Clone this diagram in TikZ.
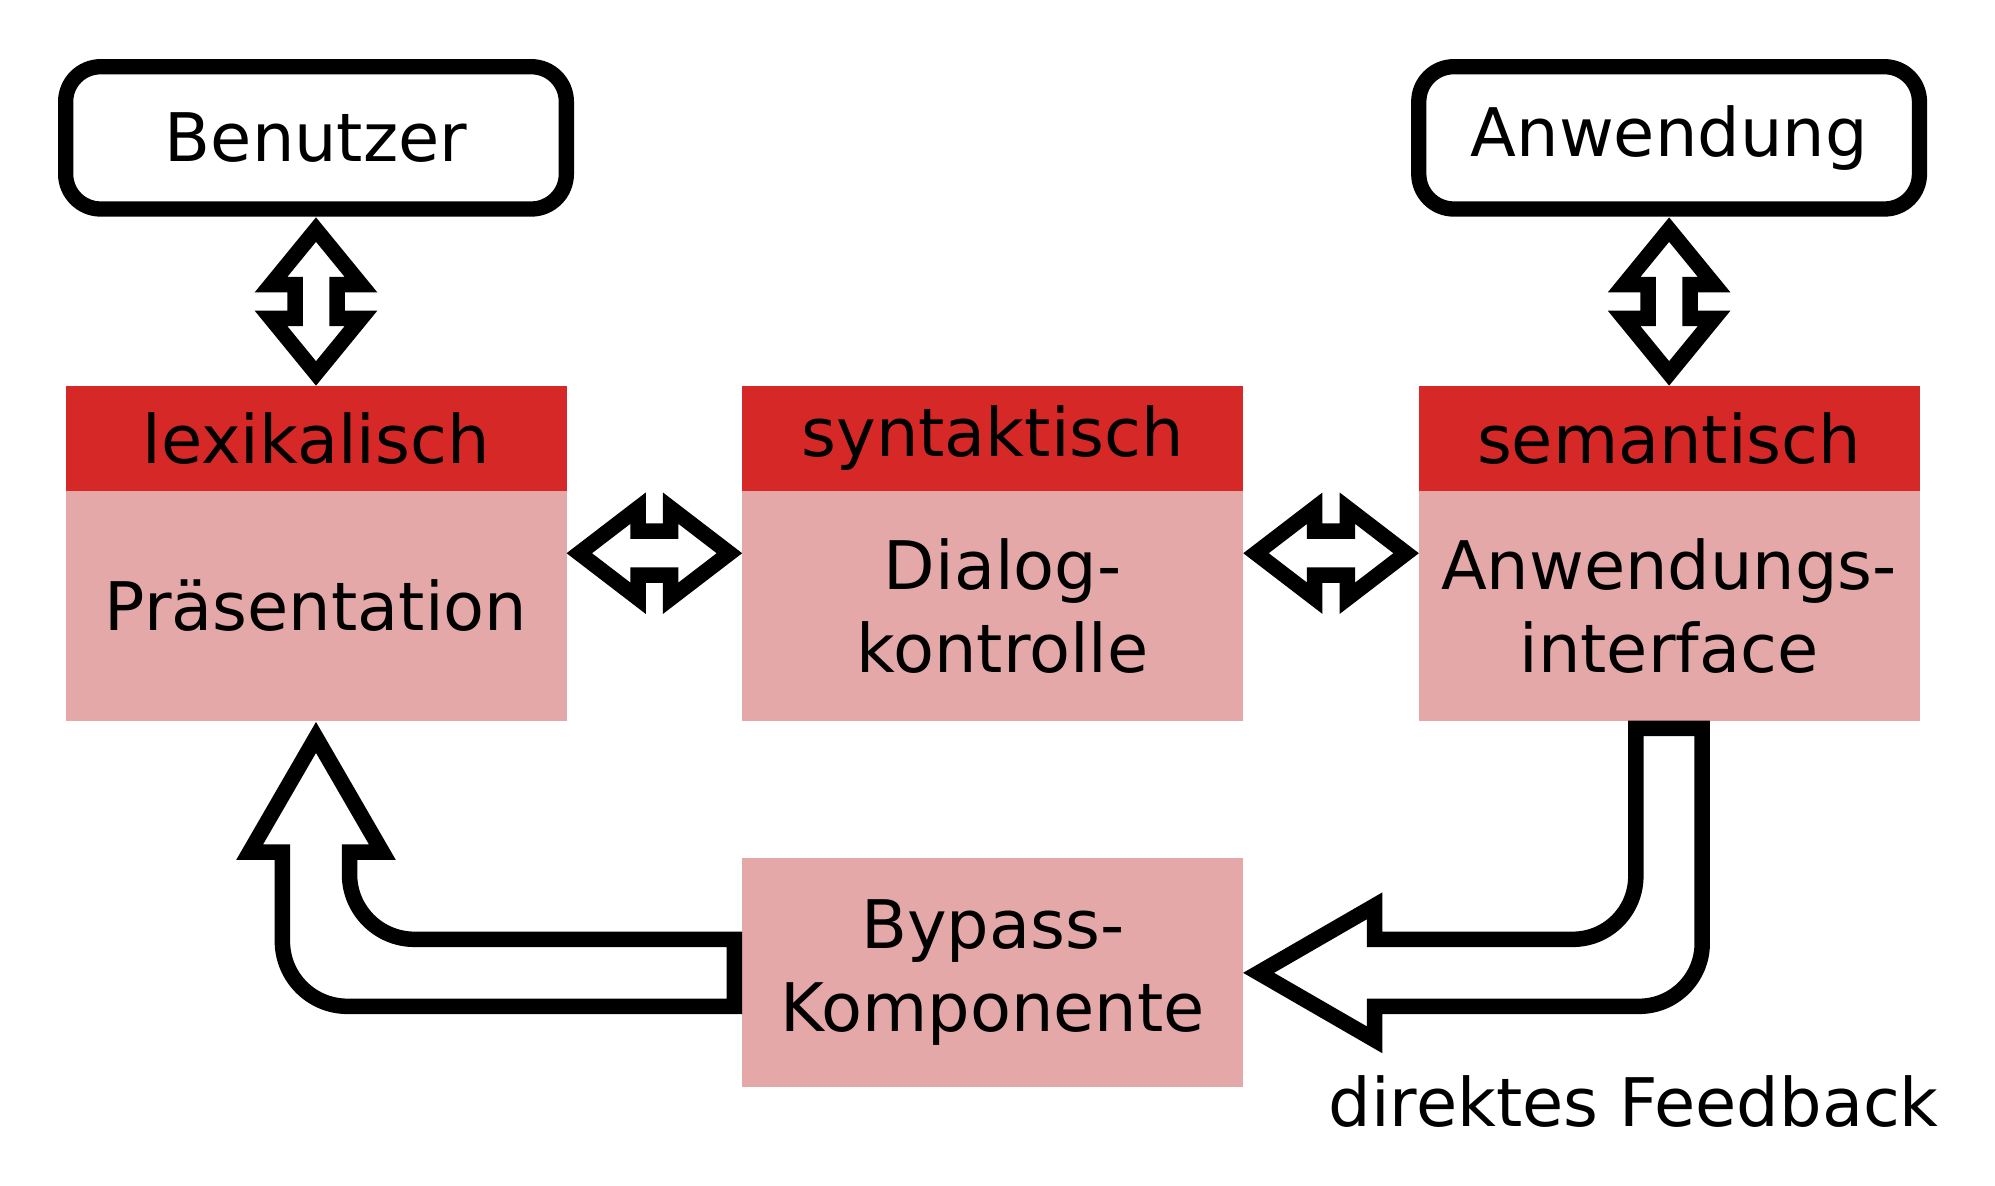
\documentclass[tikz,border=0pt]{standalone}
\usepackage{fontspec}
\setmainfont{DejaVu Sans}
\usetikzlibrary{calc}
\definecolor{hdred}{HTML}{D72828}
\definecolor{bodypink}{HTML}{E5A8A8}
% #1 start (centerline tip), #2 angle, #3 length, #4 head length, #5 head half width, #6 shaft half width
\newcommand\dblarrow[6]{%
  \draw[blockarrow, shift={(#1)}, rotate=#2]
    (0,0) -- (#4,#5) -- (#4,#6) -- ({#3-#4},#6) -- ({#3-#4},#5) -- (#3,0)
    -- ({#3-#4},-#5) -- ({#3-#4},-#6) -- (#4,-#6) -- (#4,-#5) -- cycle;}
\begin{document}
\begin{tikzpicture}[x=0.5pt,y=-0.5pt,
  txt/.style={font=\fontsize{33.5pt}{41.35pt}\selectfont, text=black, align=center},
  header/.style={txt, fill=hdred, inner sep=0pt, outer sep=0pt, minimum width=250.5pt, minimum height=52.65pt},
  body/.style={txt, fill=bodypink, inner sep=0pt, outer sep=0pt, minimum width=250.5pt, minimum height=114.85pt},
  endbox/.style={txt, draw=black, line width=7.65pt, rounded corners=17.5pt, fill=white,
                 inner sep=0pt, outer sep=0pt, minimum width=250.35pt, minimum height=71.15pt},
  blockarrow/.style={draw=black, fill=white, line width=7.75pt, line join=miter, miter limit=10}]

\fill[white] (0,0) rectangle (1995,1185);
\useasboundingbox (0,0) rectangle (1995,1185);

% boxes
\node[endbox] (ben) at (316,137.85) {Benutzer};
\node[endbox] (anw) at (1669.1,137.85) {Anwendung};
\node[header] (lexh) at (316,438.35) {lexikalisch};
\node[body]   (lexb) at (316,605.85) {Präsentation};
\node[header] (synh) at (992.7,438.35) {syntaktisch};
\node[body]   (synb) at (992.7,605.85) {};
\node[txt, inner sep=0pt] (synt) at ($(synb.center)+(10,0)$) {Dialog-\\kontrolle};
\node[header] (semh) at (1669,438.35) {semantisch};
\node[body]   (semb) at (1669,605.85) {Anwendungs-\\interface};
\node[body, minimum height=114.5pt] (byp) at (992.7,972.8) {Bypass-\\Komponente};
\node[txt, anchor=base west, inner sep=0pt] (fb) at (1328.3,1126) {direktes Feedback};

% vertical double arrows
\coordinate (v1) at ($(ben.south)+(0,20.6)$);
\coordinate (v2) at ($(anw.south)+(0,20.6)$);
\dblarrow{v1}{-90}{143.8}{55}{45}{21}
\dblarrow{v2}{-90}{143.8}{55}{45}{21}

% horizontal double arrows
\coordinate (h1) at ($(lexh.north east)!0.5!(lexb.south east)+(12.8,0)$);
\coordinate (h2) at ($(synh.north east)!0.5!(synb.south east)+(12.8,0)$);
\dblarrow{h1}{0}{150.1}{58.7}{45}{22}
\dblarrow{h2}{0}{150.1}{58.7}{45}{22}

% bypass: Bypass-Komponente -> Praesentation
\coordinate (L0) at ($(byp.west)+(-7.9,-33.5)$);
\coordinate (L1) at ($(byp.west)+(-7.9,33.5)$);
\coordinate (tipL) at ($(lexb.south)+(0,16.7)$);
\draw[blockarrow] (L0) -- (414.5,939.3) arc[start angle=90,end angle=180,radius=65]
  -- (349.5,852.2) -- (382.4,852.2) -- (tipL) -- (249.6,852.2) -- (282.4,852.2)
  -- (282.4,941.3) arc[start angle=180,end angle=90,radius=65] -- (L1) -- cycle;

% direktes Feedback: Anwendungsinterface -> Bypass-Komponente
\coordinate (R0) at ($(semb.south)+(-33.2,7.6)$);
\coordinate (R1) at ($(semb.south)+(33.2,7.6)$);
\coordinate (tipR) at ($(byp.east)+(15.4,0)$);
\draw[blockarrow] (R0) -- (1635.8,876.3) arc[start angle=0,end angle=90,radius=63]
  -- (1374.6,939.3) -- (1374.6,905.8) -- (tipR) -- (1374.6,1039.8) -- (1374.6,1006.3)
  -- (1639.2,1006.3) arc[start angle=90,end angle=0,radius=63] -- (R1) -- cycle;
\end{tikzpicture}
\end{document}
